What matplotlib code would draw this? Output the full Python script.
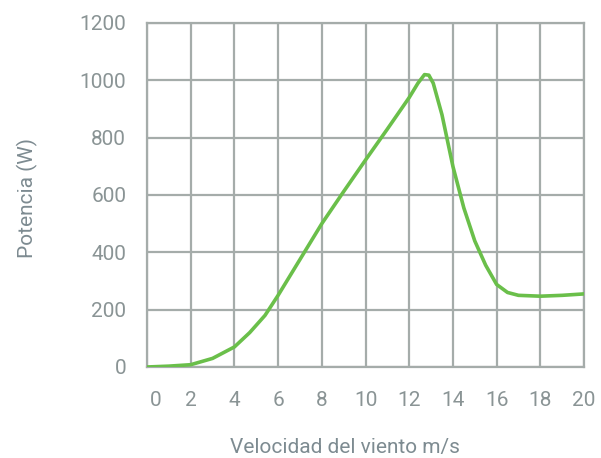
import matplotlib
matplotlib.use("Agg")
import matplotlib.pyplot as plt
import matplotlib.transforms as mtransforms

# data
velocidad = [0, 1, 2, 3, 4, 4.7, 5.4, 6, 7, 8, 9, 10, 11, 12, 12.4, 12.7,
             12.9, 13.1, 13.5, 14, 14.5, 15, 15.5, 16, 16.5, 17, 18, 19, 20]
potencia = [0, 3, 8, 30, 70, 120, 180, 250, 375, 500, 612, 722, 830, 940, 990, 1020,
            1018, 990, 880, 700, 555, 440, 355, 288, 260, 250, 247, 250, 255]
xticks = list(range(0, 21, 2))
yticks = list(range(0, 1201, 200))

grid_col = '#a5acaa'
text_col = '#8a9495'
label_col = '#7d8b91'
line_col = '#6abf4a'

plt.rcParams['font.family'] = ['Roboto', 'DejaVu Sans']

fig = plt.figure(figsize=(6.01, 4.58), dpi=100)
ax = fig.add_axes([147 / 601, 1 - 367 / 458, 437 / 601, 344 / 458])

ax.plot(velocidad, potencia, color=line_col, lw=2.6, solid_capstyle='round',
        solid_joinstyle='round', zorder=3)

ax.set_xlim(0, 20)
ax.set_ylim(0, 1200)
ax.set_xticks(xticks)
ax.set_yticks(yticks)
ax.grid(True, color=grid_col, lw=1.6)
ax.set_axisbelow(True)
for s in ax.spines.values():
    s.set_color(grid_col)
    s.set_linewidth(1.6)

ax.tick_params(length=0, labelsize=15, colors=text_col)
ax.tick_params(axis='x', pad=17)
ax.tick_params(axis='y', pad=15)

# the "0" label sits a bit to the right in the original
lbl0 = ax.get_xticklabels()[0]
lbl0.set_transform(lbl0.get_transform() + mtransforms.ScaledTranslation(9 / 100, 0, fig.dpi_scale_trans))

ax.set_xlabel('Velocidad del viento m/s', fontsize=15, color=label_col)
ax.xaxis.set_label_coords(0.453, -0.207)
ax.set_ylabel('Potencia (W)', fontsize=15, color=label_col)
ax.yaxis.set_label_coords(-0.25, 0.49)

fig.savefig('out.png', dpi=100)
